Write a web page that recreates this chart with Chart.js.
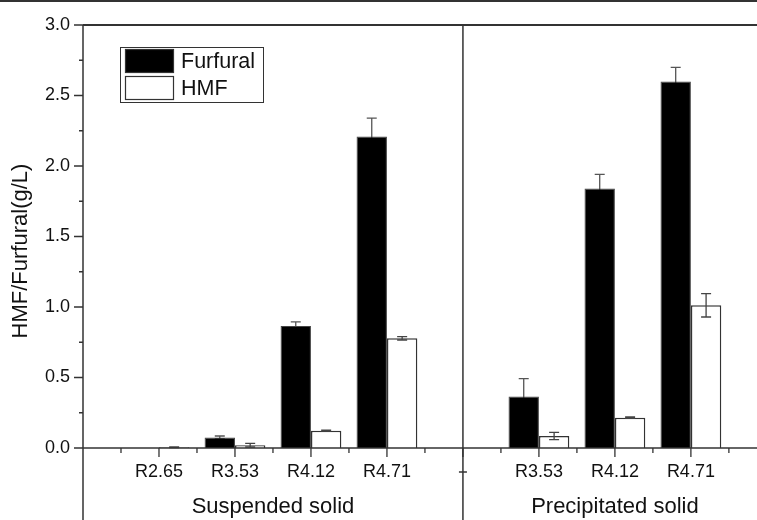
<!DOCTYPE html>
<html lang="en">
<head>
  <meta charset="UTF-8">
  <title>HMF / Furfural</title>
  <script src="https://cdn.jsdelivr.net/npm/chart.js"></script>
  <style>
    * { margin: 0; padding: 0; box-sizing: border-box; }
    body { background: #fff; width: 757px; height: 520px; overflow: hidden; }
    canvas { display: block; }
  </style>
</head>
<body>
  <canvas id="chart" width="757" height="520"></canvas>

  <script>
    // slot 0 and 5 are empty (axis start / break between the two groups)
    const categories = ['', 'R2.65', 'R3.53', 'R4.12', 'R4.71', '', 'R3.53', 'R4.12', 'R4.71'];
    const furfural    = [null, 0.0,   0.075, 0.865, 2.21, null, 0.365, 1.84,  2.60];
    const furfuralErr = [null, 0.0,   0.01,  0.03,  0.13, null, 0.127, 0.10,  0.10];
    const hmf         = [null, 0.005, 0.02,  0.123, 0.778, null, 0.085, 0.215, 1.012];
    const hmfErr      = [null, 0.002, 0.013, 0.003, 0.012, null, 0.026, 0.005, 0.083];
    const groupNames = ['Suspended solid', 'Precipitated solid'];
    const groupSlots = [[1, 4], [6, 8]];
    const breakSlot = 5;
    const yTicks = [0, 0.5, 1.0, 1.5, 2.0, 2.5, 3.0];

    const FONT = "'Liberation Sans', Arial, sans-serif";
    const LINE = '#333';

    function toPoints(values) {
      return values.map((v, i) => ({ x: i, y: v })).filter(p => p.y !== null);
    }

    function drawErrors(chart, dsIndex, errs, color) {
      const ctx = chart.ctx;
      const y = chart.scales.y;
      const meta = chart.getDatasetMeta(dsIndex);
      ctx.save();
      ctx.strokeStyle = color;
      ctx.lineWidth = 1.3;
      meta.data.forEach((bar, i) => {
        const pt = chart.data.datasets[dsIndex].data[i];
        const e = errs[pt.x];
        if (!e) return;
        const top = y.getPixelForValue(pt.y + e);
        const bot = y.getPixelForValue(Math.max(0, pt.y - e));
        ctx.beginPath();
        ctx.moveTo(bar.x, top); ctx.lineTo(bar.x, bot);
        ctx.moveTo(bar.x - 5, top); ctx.lineTo(bar.x + 5, top);
        ctx.moveTo(bar.x - 5, bot); ctx.lineTo(bar.x + 5, bot);
        ctx.stroke();
      });
      ctx.restore();
    }

    const decorations = {
      id: 'decorations',
      beforeDatasetsDraw(chart) {
        drawErrors(chart, 0, furfuralErr, '#555');
      },
      afterDatasetsDraw(chart) {
        drawErrors(chart, 1, hmfErr, '#444');
      },
      afterDraw(chart) {
        const ctx = chart.ctx;
        const area = chart.chartArea;
        const x = chart.scales.x, y = chart.scales.y;
        const W = chart.width, H = chart.height;
        ctx.save();
        ctx.strokeStyle = LINE;

        // figure frame line at the very top
        ctx.lineWidth = 2;
        ctx.beginPath(); ctx.moveTo(0, 1); ctx.lineTo(W, 1); ctx.stroke();

        // plot top
        ctx.beginPath(); ctx.moveTo(area.left, area.top); ctx.lineTo(W, area.top); ctx.stroke();

        // left axis and break line, both run down to the bottom
        ctx.lineWidth = 1.5;
        const xb = x.getPixelForValue(breakSlot);
        ctx.beginPath();
        ctx.moveTo(area.left, area.top); ctx.lineTo(area.left, H);
        ctx.moveTo(xb, area.top); ctx.lineTo(xb, H);
        ctx.stroke();
        ctx.beginPath(); ctx.moveTo(xb - 4, 472); ctx.lineTo(xb + 4, 472); ctx.stroke();

        // x axis
        ctx.beginPath(); ctx.moveTo(area.left, area.bottom); ctx.lineTo(W, area.bottom); ctx.stroke();

        // x ticks: long at slots, short at half slots
        ctx.lineWidth = 1.3;
        ctx.beginPath();
        for (let v = 0.5; v <= x.max; v += 0.5) {
          const px = x.getPixelForValue(v);
          const len = Number.isInteger(v) ? 9 : 5;
          ctx.moveTo(px, area.bottom); ctx.lineTo(px, area.bottom + len);
        }
        // y ticks: long at labelled values, short at quarters
        for (let v = 0.25; v <= y.max + 0.001; v += 0.25) {
          const py = y.getPixelForValue(v);
          const len = (Math.round(v * 4) % 2 === 0) ? 9 : 4;
          ctx.moveTo(area.left, py); ctx.lineTo(area.left - len, py);
        }
        ctx.moveTo(area.left, area.bottom); ctx.lineTo(area.left - 9, area.bottom);
        ctx.stroke();

        // group labels
        ctx.fillStyle = '#111';
        ctx.font = '22px ' + FONT;
        ctx.textAlign = 'center';
        ctx.textBaseline = 'middle';
        groupNames.forEach((name, g) => {
          const mid = (groupSlots[g][0] + groupSlots[g][1]) / 2;
          ctx.fillText(name, x.getPixelForValue(mid), 507);
        });

        // y axis title
        ctx.save();
        ctx.translate(21, 251);
        ctx.rotate(-Math.PI / 2);
        ctx.fillText('HMF/Furfural(g/L)', 0, 0);
        ctx.restore();

        // legend
        const lx = area.left + 37, ly = 47;
        ctx.lineWidth = 1;
        ctx.strokeStyle = LINE;
        ctx.strokeRect(lx + 0.5, ly + 0.5, 143, 55);
        chart.data.datasets.forEach((ds, i) => {
          const sy = ly + 2 + i * 27;
          ctx.fillStyle = ds.backgroundColor;
          ctx.fillRect(lx + 5, sy, 49, 24);
          ctx.strokeStyle = LINE;
          ctx.lineWidth = 1.2;
          ctx.strokeRect(lx + 5.5, sy + 0.5, 48, 23);
          ctx.fillStyle = '#111';
          ctx.font = '21.5px ' + FONT;
          ctx.textAlign = 'left';
          ctx.fillText(ds.label, lx + 61, sy + 13);
        });
        ctx.restore();
      }
    };

    new Chart(document.getElementById('chart'), {
      type: 'bar',
      data: {
        datasets: [
          {
            label: 'Furfural',
            data: toPoints(furfural),
            backgroundColor: '#000',
            borderColor: '#444',
            borderWidth: 1,
            categoryPercentage: 0.8,
            barPercentage: 1.0
          },
          {
            label: 'HMF',
            data: toPoints(hmf),
            backgroundColor: '#fff',
            borderColor: '#333',
            borderWidth: 1.5,
            categoryPercentage: 0.8,
            barPercentage: 1.0
          }
        ]
      },
      options: {
        responsive: false,
        devicePixelRatio: 1,
        animation: false,
        layout: { padding: { top: 25, left: 0, right: 0, bottom: 0 } },
        plugins: { legend: { display: false }, tooltip: { enabled: false } },
        scales: {
          x: {
            type: 'linear',
            min: 0,
            max: 8.87,
            offset: false,
            grid: { display: false, drawTicks: false, offset: false },
            border: { display: false },
            afterBuildTicks: s => {
              s.ticks = categories.map((c, i) => ({ value: i })).filter(t => categories[t.value] !== '');
            },
            afterFit: s => { s.height = 72; },
            ticks: {
              autoSkip: false,
              maxRotation: 0,
              padding: 13,
              color: '#111',
              font: { family: FONT, size: 18 },
              callback: v => categories[v] || ''
            }
          },
          y: {
            min: 0,
            max: 3,
            grid: { display: false, drawTicks: false },
            border: { display: false },
            afterBuildTicks: s => { s.ticks = yTicks.map(v => ({ value: v })); },
            afterFit: s => { s.width = 83; },
            ticks: {
              padding: 13,
              color: '#111',
              font: { family: FONT, size: 18 },
              callback: v => v.toFixed(1)
            }
          }
        }
      },
      plugins: [decorations]
    });
  </script>
</body>
</html>
